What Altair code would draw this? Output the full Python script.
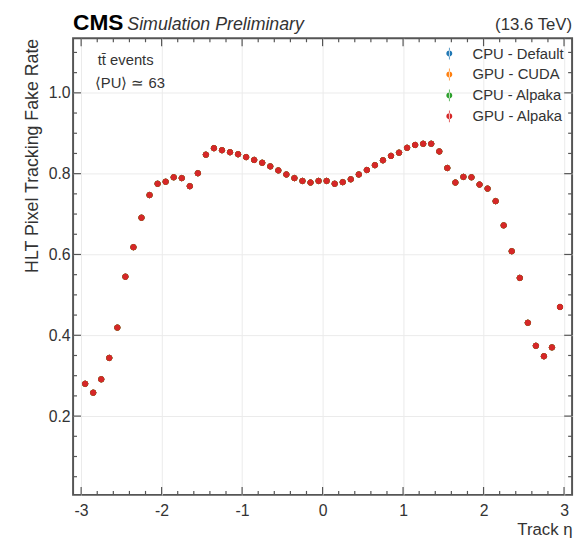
import altair as alt
import pandas as pd

# ---------------- data ----------------
eta = [-2.95, -2.85, -2.75, -2.65, -2.55, -2.45, -2.35, -2.25, -2.15, -2.05,
       -1.95, -1.85, -1.75, -1.65, -1.55, -1.45, -1.35, -1.25, -1.15, -1.05,
       -0.95, -0.85, -0.75, -0.65, -0.55, -0.45, -0.35, -0.25, -0.15, -0.05,
       0.05, 0.15, 0.25, 0.35, 0.45, 0.55, 0.65, 0.75, 0.85, 0.95,
       1.05, 1.15, 1.25, 1.35, 1.45, 1.55, 1.65, 1.75, 1.85, 1.95,
       2.05, 2.15, 2.25, 2.35, 2.45, 2.55, 2.65, 2.75, 2.85, 2.95]
fake_rate = [0.280, 0.258, 0.291, 0.344, 0.419, 0.545, 0.618, 0.691, 0.747, 0.775,
             0.780, 0.791, 0.789, 0.769, 0.801, 0.847, 0.863, 0.858, 0.853, 0.848,
             0.841, 0.834, 0.827, 0.818, 0.808, 0.798, 0.789, 0.782, 0.778, 0.782,
             0.782, 0.775, 0.779, 0.786, 0.798, 0.809, 0.821, 0.833, 0.844, 0.852,
             0.864, 0.871, 0.874, 0.874, 0.855, 0.814, 0.778, 0.792, 0.791, 0.773,
             0.763, 0.732, 0.672, 0.608, 0.542, 0.431, 0.374, 0.348, 0.370, 0.470]
series = ["CPU - Default", "GPU - CUDA", "CPU - Alpaka", "GPU - Alpaka"]
colors = ["#1f77b4", "#ff7f0e", "#2ca02c", "#d62728"]

x_major = [-3, -2, -1, 0, 1, 2, 3]
x_minor = [-2.8, -2.6, -2.4, -2.2, -1.8, -1.6, -1.4, -1.2, -0.8, -0.6, -0.4, -0.2,
           0.2, 0.4, 0.6, 0.8, 1.2, 1.4, 1.6, 1.8, 2.2, 2.4, 2.6, 2.8]
y_major = [0.2, 0.4, 0.6, 0.8, 1.0]
y_minor = [0.05, 0.1, 0.15, 0.25, 0.3, 0.35, 0.45, 0.5, 0.55, 0.65, 0.7, 0.75,
           0.85, 0.9, 0.95, 1.05, 1.1]

header_left = ["CMS"]
header_sub = ["Simulation Preliminary"]
header_right = ["(13.6 TeV)"]
note1 = ["tt\u0304 events"]
note2 = ["\u27e8PU\u27e9 \u2243 63"]

# ---------------- layout ----------------
W, H = 506, 463
X_DOMAIN = [-3.1, 3.1]
Y_DOMAIN = [0.005, 1.135]
FONT = "Liberation Sans"
FRAME = "#555555"
TXT = "#333333"

rows = []
for s in series:
    for e, r in zip(eta, fake_rate):
        rows.append({"eta": e, "rate": r, "series": s})
df = pd.DataFrame(rows)

xscale = alt.Scale(domain=X_DOMAIN, nice=False, zero=False)
yscale = alt.Scale(domain=Y_DOMAIN, nice=False, zero=False)
cscale = alt.Scale(domain=series, range=colors)

x_axis = alt.Axis(title="Track \u03b7", values=x_major, labelExpr="'' + datum.value",
                  ticks=False, tickSize=0, domain=False, grid=True,
                  gridColor="#ebebeb", gridWidth=1,
                  labelFont=FONT, labelFontSize=16, labelColor=TXT, labelPadding=8,
                  titleFont=FONT, titleFontSize=17, titleFontWeight="normal",
                  titleColor=TXT, titleAnchor="end", titlePadding=3)
y_axis = alt.Axis(title="HLT Pixel Tracking Fake Rate", values=y_major, format=".1f",
                  ticks=False, tickSize=0, domain=False, grid=True,
                  gridColor="#ebebeb", gridWidth=1,
                  labelFont=FONT, labelFontSize=16, labelColor=TXT, labelPadding=3,
                  titleFont=FONT, titleFontSize=18, titleFontWeight="normal",
                  titleColor=TXT, titleAnchor="end", titlePadding=7)

sym_path = ("M-0.06,-1L0.06,-1L0.06,1L-0.06,1Z "
            "M-0.5,0A0.5,0.5,0,1,0,0.5,0A0.5,0.5,0,1,0,-0.5,0Z")

points = alt.Chart(df).mark_circle(size=30, opacity=1, strokeWidth=1).encode(
    x=alt.X("eta:Q", scale=xscale, axis=x_axis),
    y=alt.Y("rate:Q", scale=yscale, axis=y_axis),
    color=alt.Color("series:N", scale=cscale, sort=series,
                    legend=alt.Legend(title=None, orient="none", legendX=374, legendY=8,
                                      direction="vertical", symbolType=sym_path,
                                      symbolSize=144, symbolStrokeWidth=0,
                                      symbolOpacity=1,
                                      labelFont=FONT, labelFontSize=15, labelColor=TXT,
                                      labelOffset=16, rowPadding=5.2, padding=0)),
    stroke=alt.Stroke("series:N", scale=cscale, sort=series, legend=None),
)


def xticks(vals, length, top):
    d = pd.DataFrame({"eta": vals})
    if top:
        yy, yy2 = alt.value(0), alt.value(length)
    else:
        yy, yy2 = alt.value(H), alt.value(H - length)
    return alt.Chart(d).mark_rule(color=FRAME, strokeWidth=1.2).encode(
        x=alt.X("eta:Q", scale=xscale, axis=x_axis), y=yy, y2=yy2)


def yticks(vals, length, right):
    d = pd.DataFrame({"rate": vals})
    if right:
        xx, xx2 = alt.value(W), alt.value(W - length)
    else:
        xx, xx2 = alt.value(0), alt.value(length)
    return alt.Chart(d).mark_rule(color=FRAME, strokeWidth=1.2).encode(
        y=alt.Y("rate:Q", scale=yscale, axis=y_axis), x=xx, x2=xx2)


def label(txt, x, y, size, weight="normal", style="normal", align="left"):
    return alt.Chart(pd.DataFrame({"t": txt})).mark_text(
        font=FONT, fontSize=size, fontWeight=weight, fontStyle=style,
        align=align, baseline="alphabetic", color="#000000" if weight == "bold" else TXT,
    ).encode(text="t:N", x=alt.value(x), y=alt.value(y))


layers = [
    xticks(x_major, 8, False), xticks(x_minor, 4, False),
    xticks(x_major, 8, True), xticks(x_minor, 4, True),
    yticks(y_major, 8, False), yticks(y_minor, 4, False),
    yticks(y_major, 8, True), yticks(y_minor, 4, True),
    points,
    label(header_left, 0, -8, 23, weight="bold"),
    label(header_sub, 55, -8, 18, style="italic"),
    label(header_right, W, -8, 17, align="right"),
    label(note1, 25, 27, 15),
    label(note2, 22, 50, 15),
]

chart = alt.layer(*layers).properties(
    width=W, height=H,
    autosize=alt.AutoSizeParams(type="none"),
    padding={"left": 66, "top": 27, "right": 6, "bottom": 40},
    background="white",
).configure_view(stroke=FRAME, strokeWidth=2)

chart.save("out.html", embed_options={"renderer": "svg", "actions": False})
